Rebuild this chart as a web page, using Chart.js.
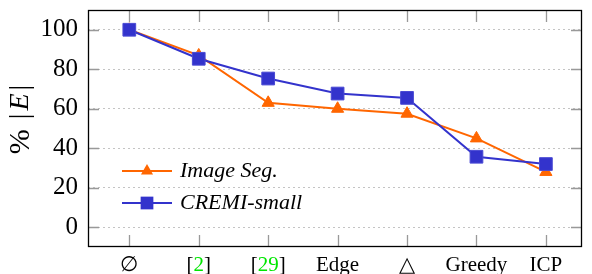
<!DOCTYPE html>
<html>
<head>
<meta charset="utf-8">
<script src="https://cdn.jsdelivr.net/npm/chart.js@4.4.1/dist/chart.umd.min.js"></script>
<style>
  html, body { margin: 0; padding: 0; background: #fff; }
  #wrap { width: 592px; height: 274px; position: relative; }
</style>
</head>
<body>
<div id="wrap"><canvas id="chart"></canvas></div>
<script>
// categories along the x axis
const categories = ["\u2205", "[2]", "[29]", "Edge", "\u25B3", "Greedy", "ICP"];
// series values (% of |E|)
const imageSeg = [100, 87, 63, 60, 57.5, 45, 28];
const cremiSmall = [100, 85.3, 75.3, 67.7, 65.5, 35.7, 32];
// y tick labels
const yTicks = [0, 20, 40, 60, 80, 100];
const seriesNames = ["Image Seg.", "CREMI-small"];

const orange = "#ff6600";
const blue = "#3333cc";
const serif = "'Liberation Serif', 'DejaVu Serif', serif";

const toPoints = (arr) => arr.map((v, i) => ({ x: i, y: v }));

// frame, inner ticks, x labels, y title and legend
const decor = {
  id: "decor",
  beforeDatasetsDraw(chart) {
    const { ctx, chartArea: a, scales: { x, y } } = chart;
    ctx.save();
    ctx.strokeStyle = "#999";
    ctx.lineWidth = 1.3;
    ctx.beginPath();
    yTicks.forEach((v) => {
      const py = Math.round(y.getPixelForValue(v)) + 0.5;
      ctx.moveTo(a.left, py); ctx.lineTo(a.left + 11, py);
      ctx.moveTo(a.right - 11, py); ctx.lineTo(a.right, py);
    });
    categories.forEach((c, i) => {
      const px = Math.round(x.getPixelForValue(i)) + 0.5;
      ctx.moveTo(px, a.top); ctx.lineTo(px, a.top + 12);
      ctx.moveTo(px, a.bottom); ctx.lineTo(px, a.bottom - 12);
    });
    ctx.stroke();
    ctx.restore();
  },
  afterDraw(chart) {
    const { ctx, chartArea: a, scales: { x } } = chart;
    ctx.save();
    // frame
    ctx.strokeStyle = "#000";
    ctx.lineWidth = 1.3;
    ctx.strokeRect(a.left + 0.5, a.top + 0.5, a.right - a.left - 1, a.bottom - a.top - 1);

    // x labels, citation numbers in green
    ctx.font = "21px " + serif;
    ctx.textBaseline = "middle";
    ctx.textAlign = "left";
    categories.forEach((c, i) => {
      const px = x.getPixelForValue(i);
      const m = c.match(/^\[(\d+)\]$/);
      const parts = m ? [["[", "#000"], [m[1], "#00e600"], ["]", "#000"]] : [[c, "#000"]];
      const w = parts.reduce((s, p) => s + ctx.measureText(p[0]).width, 0);
      let cx = px - w / 2;
      parts.forEach((p) => {
        ctx.fillStyle = p[1];
        ctx.fillText(p[0], cx, 265);
        cx += ctx.measureText(p[0]).width;
      });
    });

    // y axis title: % |E|
    ctx.translate(21, 119.5);
    ctx.rotate(-Math.PI / 2);
    const bits = [["%", "30px " + serif, 10], ["|", "28px " + serif, 3], ["E", "italic 28px " + serif, 3], ["|", "28px " + serif, 0]];
    let tw = 0;
    bits.forEach((b) => { ctx.font = b[1]; tw += ctx.measureText(b[0]).width + b[2]; });
    let tx = -tw / 2;
    ctx.fillStyle = "#000";
    ctx.textBaseline = "middle";
    bits.forEach((b) => {
      ctx.font = b[1];
      ctx.fillText(b[0], tx, 0);
      tx += ctx.measureText(b[0]).width + b[2];
    });
    ctx.setTransform(1, 0, 0, 1, 0, 0);

    // legend inside the plot
    const rows = [
      { name: seriesNames[0], color: orange, style: "triangle", y: 171 },
      { name: seriesNames[1], color: blue, style: "rect", y: 203 },
    ];
    rows.forEach((r) => {
      ctx.strokeStyle = r.color;
      ctx.lineWidth = 2;
      ctx.beginPath();
      ctx.moveTo(122, r.y); ctx.lineTo(172, r.y);
      ctx.stroke();
      ctx.fillStyle = r.color;
      ctx.beginPath();
      if (r.style === "triangle") {
        const rad = 7;
        ctx.moveTo(147, r.y - rad);
        ctx.lineTo(147 + rad * 0.866, r.y + rad / 2);
        ctx.lineTo(147 - rad * 0.866, r.y + rad / 2);
        ctx.closePath();
      } else {
        const h = 9 * Math.SQRT1_2;
        ctx.rect(147 - h, r.y - h, 2 * h, 2 * h);
      }
      ctx.fill();
      ctx.fillStyle = "#000";
      ctx.font = "italic 22px " + serif;
      ctx.textBaseline = "middle";
      ctx.textAlign = "left";
      ctx.fillText(r.name, 180, r.y);
    });
    ctx.restore();
  },
};

new Chart(document.getElementById("chart"), {
  type: "line",
  plugins: [decor],
  data: {
    datasets: [
      {
        label: seriesNames[0],
        data: toPoints(imageSeg),
        borderColor: orange,
        backgroundColor: orange,
        borderWidth: 2,
        pointStyle: "triangle",
        pointRadius: 7,
        pointBorderWidth: 1,
        order: 1,
      },
      {
        label: seriesNames[1],
        data: toPoints(cremiSmall),
        borderColor: blue,
        backgroundColor: blue,
        pointBorderColor: "#4a4ad4",
        borderWidth: 2,
        pointStyle: "rect",
        pointRadius: 9,
        pointBorderWidth: 1,
        order: 0,
      },
    ],
  },
  options: {
    responsive: true,
    maintainAspectRatio: false,
    animation: false,
    layout: { padding: { left: 0, right: 5, top: 9, bottom: 0 } },
    plugins: {
      legend: { display: false },
      tooltip: { enabled: false },
    },
    scales: {
      x: {
        type: "linear",
        min: -0.595,
        max: 6.52,
        afterBuildTicks: (axis) => { axis.ticks = categories.map((c, i) => ({ value: i })); },
        afterFit: (axis) => { axis.height = 27; axis.paddingLeft = 0; axis.paddingRight = 0; },
        ticks: { display: false },
        grid: { display: false },
        border: { display: false },
      },
      y: {
        min: -10,
        max: 110,
        afterBuildTicks: (axis) => { axis.ticks = yTicks.map((v) => ({ value: v })); },
        afterFit: (axis) => { axis.width = 88; axis.paddingTop = 0; axis.paddingBottom = 0; },
        ticks: {
          padding: 10,
          color: "#000",
          font: { family: serif, size: 25 },
        },
        grid: { color: "#c4c4c4", lineWidth: 1, drawTicks: false },
        border: { display: false, dash: [2, 3] },
      },
    },
  },
});
</script>
</body>
</html>
